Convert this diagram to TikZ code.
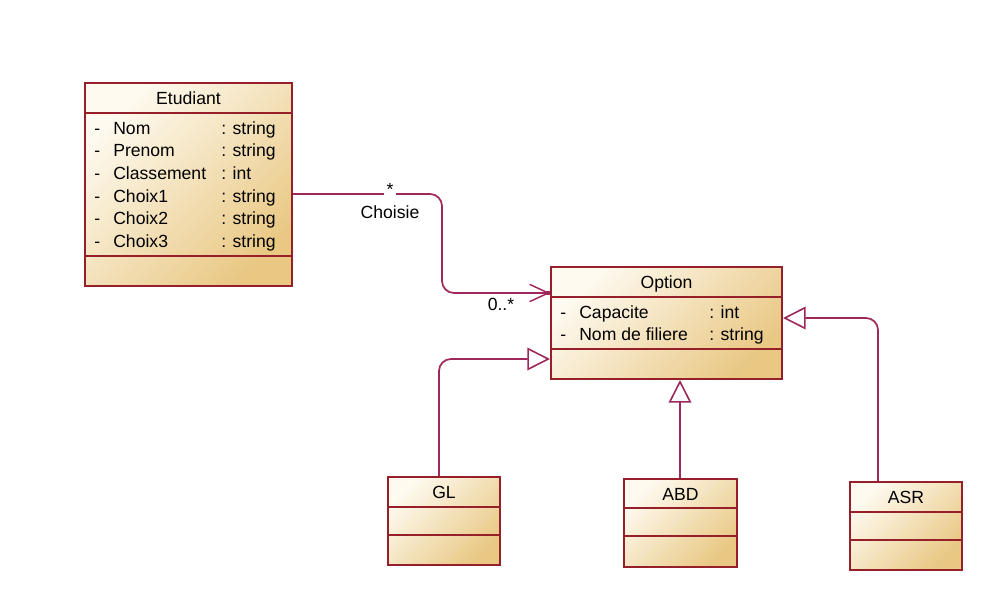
\documentclass[tikz,border=0pt]{standalone}
\usepackage{fontspec}
\setmainfont{Liberation Sans}
\usetikzlibrary{arrows.meta,fit}
\definecolor{bord}{RGB}{150,32,42}
\definecolor{wire}{RGB}{158,40,92}
\definecolor{fillA}{RGB}{254,250,240}
\definecolor{fillB}{RGB}{233,200,132}
\tikzset{
  cls/.style={draw=bord, line width=1.5pt, inner sep=0pt,
    top color=fillA, bottom color=fillB, shading angle=45},
  sep/.style={draw=bord, line width=1.5pt},
  txt/.style={font=\fontsize{13.2}{15}\selectfont, inner sep=0pt,
    text height=10.6pt, text depth=1.6pt},
  ttl/.style={txt, anchor=center},
  attr/.style={txt, anchor=west},
  conn/.style={draw=wire, line width=1.3pt, rounded corners=9},
  gen/.style={conn, -{Triangle[length=17pt,width=17pt,fill=white,line width=1.2pt]}},
  nav/.style={conn, -{Straight Barb[length=14pt,width=13pt,line width=1.1pt]}},
  lbl/.style={txt, text=black}
}
\begin{document}
\begin{tikzpicture}[x=0.75pt,y=-0.75pt]
\useasboundingbox[fill=white] (0,0) rectangle (1008,611);

% Etudiant
\node[cls, fit={(85,83) (292,286)}] (etu) {};
\draw[sep] (etu.west |- 0,113) -- (etu.east |- 0,113);
\draw[sep] (etu.west |- 0,256) -- (etu.east |- 0,256);
\node[ttl] (etuT) at (188.5,98) {Etudiant};
\foreach \y/\n/\t [count=\i] in {128/Nom/string, 150/Prenom/string, 173/Classement/int,
    196/Choix1/string, 218/Choix2/string, 241/Choix3/string} {
  \node[attr] (etuD\i) at (94,\y) {-};
  \node[attr] (etuN\i) at (113,\y) {\n};
  \node[attr] (etuY\i) at (221,\y) {: \t};
}

% Option
\node[cls, fit={(551,267) (782,379)}] (opt) {};
\draw[sep] (opt.west |- 0,297) -- (opt.east |- 0,297);
\draw[sep] (opt.west |- 0,349) -- (opt.east |- 0,349);
\node[ttl] (optT) at (666.5,282) {Option};
\foreach \y/\n/\t [count=\i] in {312/Capacite/int, 334/Nom de filiere/string} {
  \node[attr] (optD\i) at (560,\y) {-};
  \node[attr] (optN\i) at (579,\y) {\n};
  \node[attr] (optY\i) at (709,\y) {: \t};
}

% Subclasses
\node[cls, fit={(388,477) (500,565)}] (gl) {};
\draw[sep] (gl.west |- 0,507) -- (gl.east |- 0,507);
\draw[sep] (gl.west |- 0,535) -- (gl.east |- 0,535);
\node[ttl] (glT) at (444,492) {GL};

\node[cls, fit={(624,479) (737,567)}] (abd) {};
\draw[sep] (abd.west |- 0,508) -- (abd.east |- 0,508);
\draw[sep] (abd.west |- 0,536) -- (abd.east |- 0,536);
\node[ttl] (abdT) at (680.5,494) {ABD};

\node[cls, fit={(850,482) (962,570)}] (asr) {};
\draw[sep] (asr.west |- 0,512) -- (asr.east |- 0,512);
\draw[sep] (asr.west |- 0,540) -- (asr.east |- 0,540);
\node[ttl] (asrT) at (906,497) {ASR};

% Association Etudiant -> Option
\coordinate (aOut) at (etu.east |- 0,194);
\coordinate (aBend) at (442,240);
\coordinate (aIn) at (opt.west |- 0,293);
\draw[nav] (aOut) -| (aBend) |- (aIn);
\fill[wire] ([xshift=-3.5pt,yshift=-1.8pt]aIn) rectangle ([yshift=1.8pt]aIn);
\node[lbl, fill=white, minimum width=9, minimum height=16] (mStar) at (390,189) {*};
\node[lbl] (mName) at (390,212) {Choisie};
\node[lbl] (mMin) at (501,304) {0..*};

% Generalisations
\coordinate (glUp) at (gl.north -| 439,0);
\draw[gen] (glUp) |- (opt.west |- 0,359);
\coordinate (abdUp) at (abd.north -| 680,0);
\draw[gen] (abdUp) -- (abdUp |- opt.south);
\coordinate (asrUp) at (asr.north -| 878,0);
\draw[gen] (asrUp) |- (opt.east |- 0,318);
\end{tikzpicture}
\end{document}
